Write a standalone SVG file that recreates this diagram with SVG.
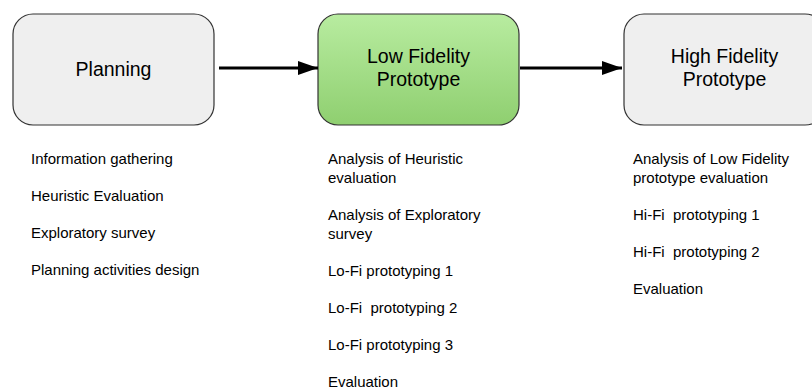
<svg xmlns="http://www.w3.org/2000/svg" width="812" height="390" viewBox="0 0 812 390">
<defs>
<linearGradient id="green" x1="0" y1="0" x2="0" y2="1">
<stop offset="0" stop-color="#b8eca0"/>
<stop offset="1" stop-color="#8fcf70"/>
</linearGradient>
<marker id="arr" markerWidth="20" markerHeight="14" refX="20" refY="7" orient="auto" markerUnits="userSpaceOnUse">
<path d="M0,0 L20,7 L0,14 Z" fill="#000"/>
</marker>
</defs>
<style>
.box{stroke:#333;stroke-width:1.2;}
.gray{fill:#efefef;}
.title{font-family:"Liberation Sans",Arial,sans-serif;font-size:19.5px;fill:#000;text-anchor:middle;}
.item{font-family:"Liberation Sans",Arial,sans-serif;font-size:15px;fill:#000;white-space:pre;}
.conn{stroke:#000;stroke-width:3;fill:none;}
</style>
<rect width="812" height="390" fill="#fff"/>
<g id="planning">
<rect class="box gray" x="13" y="14" width="201" height="111" rx="20"/>
<text class="title" x="113.5" y="76">Planning</text>
</g>
<g id="lowfi">
<rect class="box" fill="url(#green)" x="318" y="14" width="201" height="111" rx="20"/>
<text class="title" x="418.5" y="63">Low Fidelity</text>
<text class="title" x="418.5" y="86">Prototype</text>
</g>
<g id="hifi">
<rect class="box gray" x="624" y="14" width="201" height="111" rx="20"/>
<text class="title" x="724.5" y="63">High Fidelity</text>
<text class="title" x="724.5" y="86">Prototype</text>
</g>
<g id="connectors">
<line class="conn" x1="219" y1="68" x2="318" y2="68" marker-end="url(#arr)"/>
<line class="conn" x1="520" y1="68" x2="622" y2="68" marker-end="url(#arr)"/>
</g>
<g id="planning-list">
<text class="item" x="31" y="164">Information gathering</text>
<text class="item" x="31" y="201">Heuristic Evaluation</text>
<text class="item" x="31" y="238">Exploratory survey</text>
<text class="item" x="31" y="275">Planning activities design</text>
</g>
<g id="lowfi-list">
<text class="item" x="328" y="164">Analysis of Heuristic</text>
<text class="item" x="328" y="183">evaluation</text>
<text class="item" x="328" y="220">Analysis of Exploratory</text>
<text class="item" x="328" y="239">survey</text>
<text class="item" x="328" y="276">Lo-Fi prototyping 1</text>
<text class="item" x="328" y="313" xml:space="preserve">Lo-Fi  prototyping 2</text>
<text class="item" x="328" y="350">Lo-Fi prototyping 3</text>
<text class="item" x="328" y="387">Evaluation</text>
</g>
<g id="hifi-list">
<text class="item" x="633" y="164">Analysis of Low Fidelity</text>
<text class="item" x="633" y="183">prototype evaluation</text>
<text class="item" x="633" y="220" xml:space="preserve">Hi-Fi  prototyping 1</text>
<text class="item" x="633" y="257" xml:space="preserve">Hi-Fi  prototyping 2</text>
<text class="item" x="633" y="294">Evaluation</text>
</g>
</svg>
